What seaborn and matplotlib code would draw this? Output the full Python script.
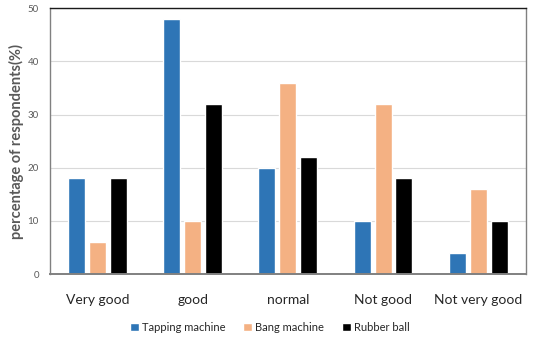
import pandas as pd
import seaborn as sns
import matplotlib.pyplot as plt

categories = ['Very good', 'good', 'normal', 'Not good', 'Not very good']
series = ['Tapping machine', 'Bang machine', 'Rubber ball']
tapping = [18, 48, 20, 10, 4]
bang = [6, 10, 36, 32, 16]
rubber = [18, 32, 22, 18, 10]
colors = ['#2E75B6', '#F4B183', '#000000']

rows = []
for name, vals in zip(series, [tapping, bang, rubber]):
    for cat, v in zip(categories, vals):
        rows.append({'Rating': cat, 'Device': name, 'Percent': v})
df = pd.DataFrame(rows)

sns.set_style('white')
plt.rcParams['font.family'] = ['Lato', 'DejaVu Sans']

fig = plt.figure(figsize=(5.34, 3.38), dpi=100)
ax = fig.add_axes([0.0936, 0.189, 0.891, 0.787])

sns.barplot(data=df, x='Rating', y='Percent', hue='Device', order=categories,
            hue_order=series, palette=colors, width=0.66, gap=0.19,
            errorbar=None, saturation=1, ax=ax)

ax.set_ylim(0, 50)
ax.set_yticks(range(0, 51, 10))
ax.yaxis.grid(True, color='#d9d9d9', linewidth=0.8)
ax.set_axisbelow(True)
ax.tick_params(axis='y', labelsize=7, colors='#595959', length=0, pad=8)
ax.tick_params(axis='x', labelsize=10, colors='#262626', length=0, pad=14)
ax.set_xlabel('')
ax.set_ylabel('percentage of respondents(%)', fontsize=10.5, fontweight='bold',
              color='#595959')
ax.yaxis.set_label_coords(-0.055, 0.5)

for side in ['left', 'right', 'bottom']:
    ax.spines[side].set_color('#808080')
    ax.spines[side].set_linewidth(1.0)
ax.spines['top'].set_color('#1a1a1a')
ax.spines['top'].set_linewidth(1.0)
ax.spines['bottom'].set_linewidth(1.4)

ax.legend(loc='center', bbox_to_anchor=(0.462, -0.2), ncol=3, frameon=False,
          fontsize=8, handlelength=0.8, handleheight=0.8, handletextpad=0.3,
          columnspacing=1.6, labelcolor='#262626')

fig.savefig('out.png', dpi=100)
